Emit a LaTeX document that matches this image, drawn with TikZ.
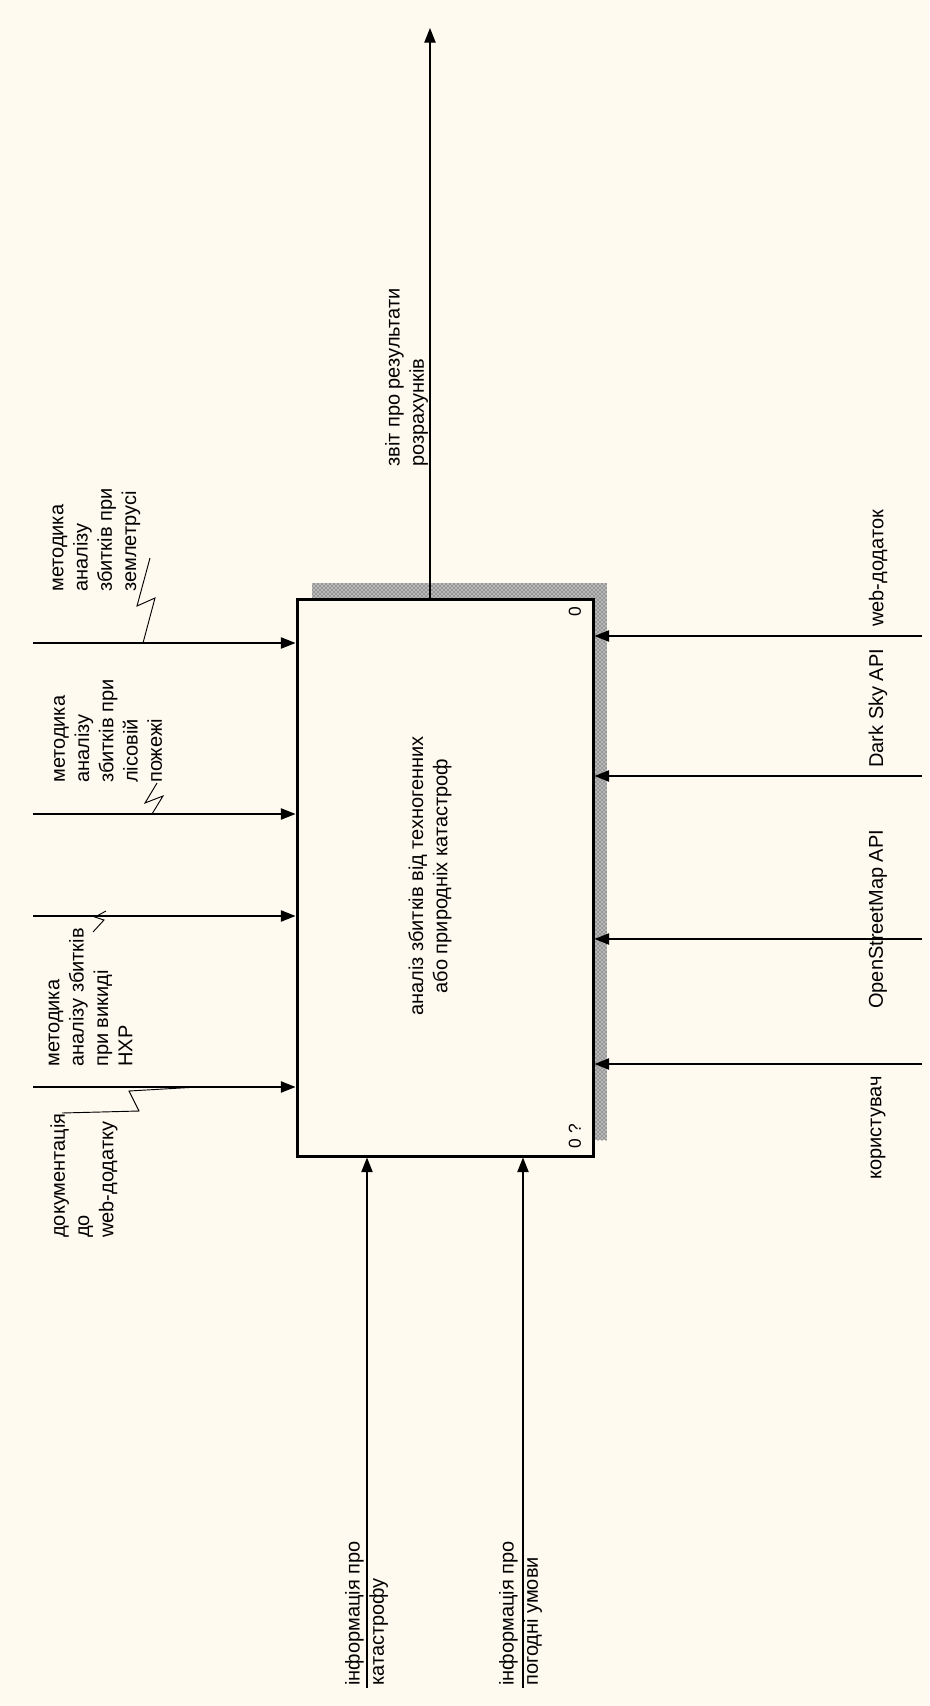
\documentclass[tikz,border=0pt]{standalone}
\usepackage{fontspec}
\setmainfont{Liberation Sans}
\usepackage{tikz}
\usetikzlibrary{arrows.meta,patterns}
\definecolor{paper}{RGB}{255,250,240}
\tikzset{
  arr/.style    = {-{Triangle[length=11pt,width=8.5pt]},line width=1pt},
  tilde/.style  = {line width=0.7pt},
  lbl/.style    = {rotate=90,align=left,inner sep=0pt,font=\fontsize{15}{18.2}\selectfont},
  funcbox/.style= {draw,fill=paper,line width=2.25pt,minimum width=222pt,minimum height=417.75pt,inner sep=0pt},
  tag/.style    = {rotate=90,inner sep=0pt,font=\fontsize{13}{13}\selectfont}
}

\begin{document}
\begin{tikzpicture}[x=0.75pt,y=-0.75pt]
  \useasboundingbox (0,0) rectangle (929,1706);
  \fill[paper] (0,0) rectangle (929,1706);
  % shadow and function block
  \fill[gray!55] (312,583) rectangle (607,1140);
  \fill[pattern=crosshatch dots,pattern color=black!85] (312,583) rectangle (607,1140);
  \node[funcbox] (func) at (445,877.5) {};
  \node[lbl,align=center] (name) at (430,876) {аналіз збитків від техногенних\\або природніх катастроф};
  \node[tag] (num) at (575,612) {0};
  \node[tag] (cost) at (575,1136) {0 ?};
  % output
  \coordinate (out) at (430,28);
  \draw[arr] (out |- func.north) -- (out);
  \node[lbl,anchor=west] (lout) at (406.5,467) {звіт про результати\\розрахунків};
  % controls
  \coordinate (c1) at (33,643);
  \coordinate (c2) at (33,814);
  \coordinate (c3) at (33,916);
  \coordinate (c4) at (33,1087);
  \foreach \c in {c1,c2,c3,c4}
    \draw[arr] (\c) -- (\c -| func.west);
  \node[lbl,anchor=west] (lc1) at (96.5,592) {методика\\аналізу\\збитків при\\землетрусі};
  \node[lbl,anchor=west] (lc2) at (108,783) {методика\\аналізу\\збитків при\\лісовій\\пожежі};
  \node[lbl,anchor=west] (lc3) at (90.5,1067) {методика\\аналізу збитків\\при викиді\\НХР};
  \node[lbl,anchor=west] (lc4) at (84,1238) {документація\\до\\web-додатку};
  \draw[tilde] (143,643) -- (155,598) -- (137,606) -- (150,558);
  \draw[tilde] (152,814) -- (163,796) -- (145,803) -- (157,783);
  \draw[tilde] (106,911) -- (95,917) -- (104,920) -- (93,932);
  \draw[tilde] (198,1087) -- (129,1091) -- (139,1111) -- (62,1113);
  % mechanisms
  \coordinate (m1) at (922,636);
  \coordinate (m2) at (922,776);
  \coordinate (m3) at (922,939);
  \coordinate (m4) at (922,1064);
  \foreach \m in {m1,m2,m3,m4}
    \draw[arr] (\m) -- (\m -| func.east);
  \node[lbl,anchor=west] (lm1) at (878,627) {web-додаток};
  \node[lbl,anchor=west] (lm2) at (878,768) {Dark Sky API};
  \node[lbl,anchor=west] (lm3) at (878,1009) {OpenStreetMap API};
  \node[lbl,anchor=west] (lm4) at (878,1180) {користувач};
  % inputs
  \coordinate (i1) at (367,1688);
  \coordinate (i2) at (523,1688);
  \foreach \i in {i1,i2}
    \draw[arr] (\i) -- (\i |- func.south);
  \node[lbl,anchor=west] (li1) at (366.5,1686) {інформація про\\катастрофу};
  \node[lbl,anchor=west] (li2) at (520.5,1686) {інформація про\\погодні умови};
\end{tikzpicture}
\end{document}
